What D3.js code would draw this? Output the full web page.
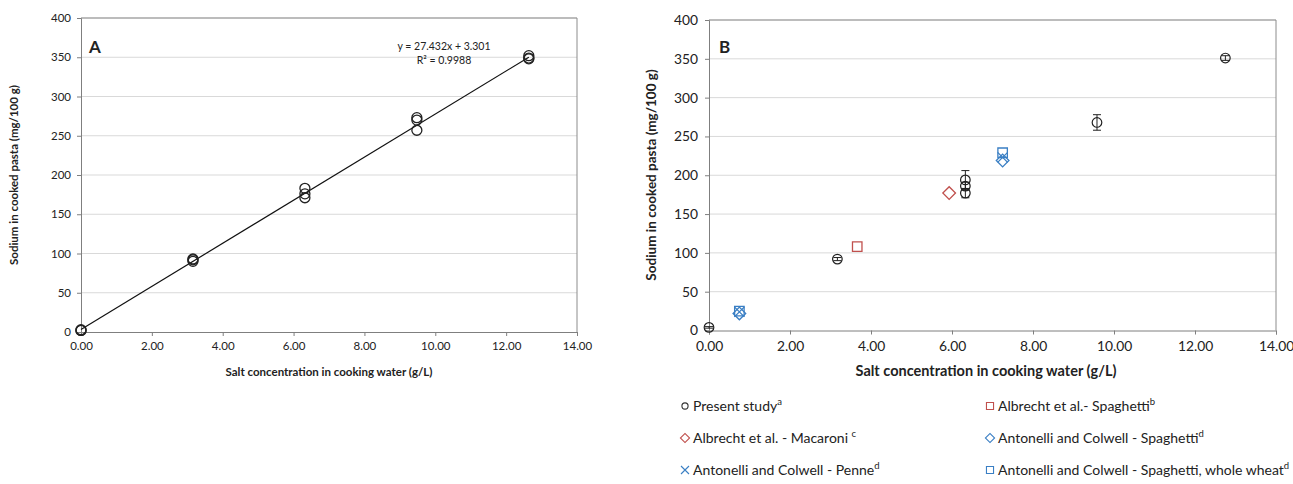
<!DOCTYPE html>
<html>
<head>
<meta charset="utf-8">
<script src="https://cdn.jsdelivr.net/npm/d3@7"></script>
<style>
  body { margin: 0; background: #fff; }
  text { font-family: Lato, "Open Sans", sans-serif; fill: #222; }
</style>
</head>
<body>
<script>
// chart A data: salt (g/L) vs sodium (mg/100 g), three replicates per level
var saltA = [0, 0, 0, 3.16, 3.16, 3.16, 6.32, 6.32, 6.32, 9.48, 9.48, 9.48, 12.64, 12.64, 12.64];
var sodiumA = [2, 3, 2, 90, 92, 93, 183, 176, 171, 273, 270, 257, 352, 349, 348];
var fitSlope = 27.432, fitIntercept = 3.301;
var fitRange = [0, 12.64];

// chart B data
var presentX = [0, 3.17, 6.33, 6.33, 6.33, 9.58, 12.75];
var presentY = [4, 92, 194, 186, 177, 268, 351];
var presentErr = [1, 2, 12, 5, 6, 10, 3];
var albSpagX = [3.66], albSpagY = [108];
var albMacX = [5.93], albMacY = [177];
var antSpagX = [0.75, 7.25], antSpagY = [22, 219];
var antPenneX = [0.75, 7.25], antPenneY = [24, 223];
var antWholeX = [0.75, 7.25], antWholeY = [25, 229];

var xTicks = [0, 2, 4, 6, 8, 10, 12, 14];
var yTicks = [0, 50, 100, 150, 200, 250, 300, 350, 400];

var red = "#c0504d", blue = "#3a7fc4";

var svg = d3.select("body").append("svg")
    .attr("width", 1293)
    .attr("height", 484);

function frame(g, x, y, fs, gap) {
  var x0 = x.range()[0], x1 = x.range()[1], y0 = y.range()[0], y1 = y.range()[1];
  g.selectAll(".grid").data(yTicks.slice(1)).enter().append("line")
    .attr("x1", x0).attr("x2", x1)
    .attr("y1", function(d) { return y(d); }).attr("y2", function(d) { return y(d); })
    .attr("stroke", "#d9d9d9").attr("stroke-width", 1);
  // plot border
  g.append("line").attr("x1", x0).attr("x2", x1).attr("y1", y1).attr("y2", y1).attr("stroke", "#8c8c8c");
  g.append("line").attr("x1", x1).attr("x2", x1).attr("y1", y1).attr("y2", y0).attr("stroke", "#8c8c8c");

  var xa = g.append("g").attr("transform", "translate(0," + y0 + ")")
    .call(d3.axisBottom(x).tickValues(xTicks).tickSize(4).tickPadding(gap).tickFormat(d3.format(".2f")));
  var ya = g.append("g").attr("transform", "translate(" + x0 + ",0)")
    .call(d3.axisLeft(y).tickValues(yTicks).tickSize(4).tickPadding(gap));
  [xa, ya].forEach(function(a) {
    a.select(".domain").attr("stroke", "#7f7f7f");
    a.selectAll(".tick line").attr("stroke", "#7f7f7f");
    a.selectAll("text").attr("font-size", fs).attr("fill", "#222");
  });
}

// ---------- chart A ----------
var xA = d3.scaleLinear().domain([0, 14]).range([81, 577]);
var yA = d3.scaleLinear().domain([0, 400]).range([332, 18]);
var gA = svg.append("g");
frame(gA, xA, yA, 11.5, 6);

gA.append("line")
  .attr("x1", xA(fitRange[0])).attr("y1", yA(fitSlope * fitRange[0] + fitIntercept))
  .attr("x2", xA(fitRange[1])).attr("y2", yA(fitSlope * fitRange[1] + fitIntercept))
  .attr("stroke", "#111").attr("stroke-width", 1.2);

gA.selectAll(".ptA").data(saltA).enter().append("circle")
  .attr("cx", function(d) { return xA(d); })
  .attr("cy", function(d, i) { return yA(sodiumA[i]); })
  .attr("r", 5)
  .attr("fill", "none").attr("stroke", "#222").attr("stroke-width", 1.3);

gA.append("text").attr("x", 89).attr("y", 53).attr("font-size", 17).attr("font-weight", "bold").text("A");
gA.append("text").attr("x", 444).attr("y", 50).attr("text-anchor", "middle").attr("font-size", 10.5)
  .text("y = 27.432x + 3.301");
gA.append("text").attr("x", 444).attr("y", 64).attr("text-anchor", "middle").attr("font-size", 10.5)
  .text("R² = 0.9988");
gA.append("text").attr("x", 329).attr("y", 376).attr("text-anchor", "middle")
  .attr("font-size", 11.5).attr("font-weight", "bold").text("Salt concentration in cooking water (g/L)");
gA.append("text").attr("transform", "translate(18,175) rotate(-90)").attr("text-anchor", "middle")
  .attr("font-size", 11.5).attr("font-weight", "bold").text("Sodium in cooked pasta (mg/100 g)");

// ---------- chart B ----------
var xB = d3.scaleLinear().domain([0, 14]).range([709, 1276]);
var yB = d3.scaleLinear().domain([0, 400]).range([330.5, 20]);
var gB = svg.append("g");
frame(gB, xB, yB, 13.8, 7);

function sym(type, size) {
  return d3.symbol().type(type).size(size)();
}

// error bars
var eb = gB.selectAll(".eb").data(presentX).enter().append("g");
eb.append("line")
  .attr("x1", function(d) { return xB(d); }).attr("x2", function(d) { return xB(d); })
  .attr("y1", function(d, i) { return yB(presentY[i] + presentErr[i]); })
  .attr("y2", function(d, i) { return yB(presentY[i] - presentErr[i]); })
  .attr("stroke", "#222");
[1, -1].forEach(function(s) {
  eb.append("line")
    .attr("x1", function(d) { return xB(d) - 4; }).attr("x2", function(d) { return xB(d) + 4; })
    .attr("y1", function(d, i) { return yB(presentY[i] + s * presentErr[i]); })
    .attr("y2", function(d, i) { return yB(presentY[i] + s * presentErr[i]); })
    .attr("stroke", "#222");
});
gB.selectAll(".ptB").data(presentX).enter().append("circle")
  .attr("cx", function(d) { return xB(d); })
  .attr("cy", function(d, i) { return yB(presentY[i]); })
  .attr("r", 4.8)
  .attr("fill", "none").attr("stroke", "#222").attr("stroke-width", 1.2);

function series(xs, ys, path, color, rot) {
  gB.selectAll(null).data(xs).enter().append("path")
    .attr("d", path)
    .attr("transform", function(d, i) { return "translate(" + xB(d) + "," + yB(ys[i]) + ")" + (rot ? " rotate(" + rot + ")" : ""); })
    .attr("fill", "none").attr("stroke", color).attr("stroke-width", 1.3);
}
var squarePath = sym(d3.symbolSquare, 90);
var diamondPath = sym(d3.symbolSquare, 80);
var crossPath = "M-5,-5L5,5M-5,5L5,-5";

series(albSpagX, albSpagY, squarePath, red);
series(albMacX, albMacY, diamondPath, red, 45);
series(antSpagX, antSpagY, diamondPath, blue, 45);
series(antPenneX, antPenneY, crossPath, blue);
series(antWholeX, antWholeY, squarePath, blue);

gB.append("text").attr("x", 719).attr("y", 53).attr("font-size", 17).attr("font-weight", "bold").text("B");
gB.append("text").attr("x", 986).attr("y", 376).attr("text-anchor", "middle")
  .attr("font-size", 14.5).attr("font-weight", "bold").text("Salt concentration in cooking water (g/L)");
gB.append("text").attr("transform", "translate(656,175) rotate(-90)").attr("text-anchor", "middle")
  .attr("font-size", 13.5).attr("font-weight", "bold").text("Sodium in cooked pasta (mg/100 g)");

// legend
var legNames = ["Present study", "Albrecht et al.- Spaghetti", "Albrecht et al. - Macaroni ",
                "Antonelli and Colwell - Spaghetti", "Antonelli and Colwell - Penne",
                "Antonelli and Colwell - Spaghetti, whole wheat"];
var legSup = ["a", "b", "c", "d", "d", "d"];
var legMarks = [
  { p: sym(d3.symbolCircle, 30), c: "#333", r: 0 },
  { p: sym(d3.symbolSquare, 50), c: red, r: 0 },
  { p: sym(d3.symbolSquare, 42), c: red, r: 45 },
  { p: sym(d3.symbolSquare, 42), c: blue, r: 45 },
  { p: "M-4,-4L4,4M-4,4L4,-4", c: blue, r: 0 },
  { p: sym(d3.symbolSquare, 50), c: blue, r: 0 }
];
var lg = gB.selectAll(".leg").data(legNames).enter().append("g")
  .attr("transform", function(d, i) { return "translate(" + (i % 2 ? 990 : 685) + "," + (406 + Math.floor(i / 2) * 32) + ")"; });
lg.append("path")
  .attr("d", function(d, i) { return legMarks[i].p; })
  .attr("transform", function(d, i) { return "rotate(" + legMarks[i].r + ")"; })
  .attr("fill", "none").attr("stroke", function(d, i) { return legMarks[i].c; }).attr("stroke-width", 1.1);
var lt = lg.append("text").attr("x", 8).attr("y", 5).attr("font-size", 14);
lt.append("tspan").text(function(d) { return d; });
lt.append("tspan").attr("dy", -6).attr("font-size", 9.5).text(function(d, i) { return legSup[i]; });
</script>
</body>
</html>
